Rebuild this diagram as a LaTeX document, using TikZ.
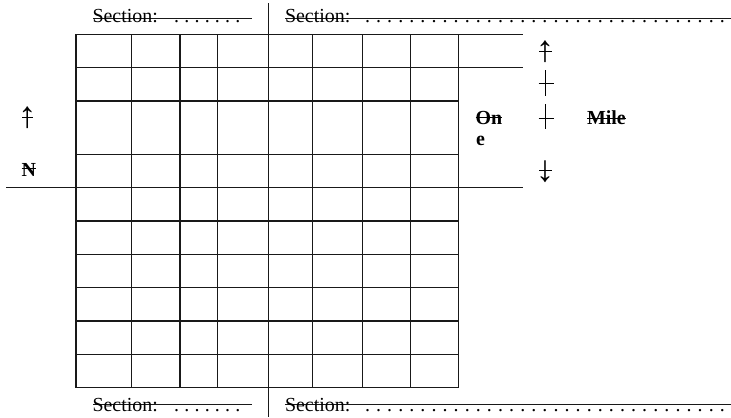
\documentclass[tikz,border=0pt]{standalone}
\usepackage{fontspec}
\setmainfont{Liberation Serif}
\newcommand\mydotrow[2]{\foreach \k in {1,...,#1}{\makebox[#2bp][l]{.}}}
\begin{document}
\begin{tikzpicture}[x=1bp,y=-1bp,
  gridline/.style={line width=1.1bp, black!90},
  lbl/.style={inner sep=0pt, outer sep=0pt, anchor=base west, font=\fontsize{20}{24}\selectfont},
  blbl/.style={lbl, font=\fontsize{20}{24}\selectfont\bfseries},
  arr/.style={inner sep=0pt, outer sep=0pt, anchor=center, font=\fontsize{37}{40}\selectfont},
  strk/.style={line width=0.9bp, black}]
\useasboundingbox (0,0) rectangle (731,417);
% grid
\foreach \x in {76,131.7,180,217.7,268.7,312.3,362.3,410.3,458.7}
  \draw[gridline] (\x,34.3) -- (\x,387.7);
\foreach \y in {34.3,67.7,101,154.3,187.7,221,254.3,287.7,321,354.3,387.7}
  \draw[gridline] (76,\y) -- (458.7,\y);
% extensions
\draw[gridline] (458.7,34.3) -- (523,34.3);
\draw[gridline] (458.7,67.7) -- (523,67.7);
\draw[gridline] (6,187.7) -- (523,187.7);
\draw[gridline] (268.7,3) -- (268.7,417);
% section lines
\draw[gridline] (93,18.3) -- (252,18.3);
\draw[gridline] (285,18.3) -- (731,18.3);
\draw[gridline] (93,404.2) -- (252,404.2);
\draw[gridline] (285,404.2) -- (731,404.2);
% section labels
\node[lbl] (s1) at (92.5,22) {Section:};
\node[lbl] (d1) at (174.2,22.5) {\mydotrow{7}{10.2}};
\node[lbl] (s2) at (285,22) {Section:};
\node[lbl] (d2) at (365,22.5) {\mydotrow{33}{11.09}};
\node[lbl] (s3) at (92.5,411) {Section:};
\node[lbl] (d3) at (174.2,411) {\mydotrow{7}{10.2}};
\node[lbl] (s4) at (285,411) {Section:};
\node[lbl] (d4) at (365,411) {\mydotrow{33}{11.09}};
% north
\node[arr] (upL) at (27.3,117.5) {↑};
\draw[strk] (22,117) -- (33,117);
\node[blbl] (N) at (21.5,176) {N};
\draw[strk] (N.west |- 0,168) -- (N.east |- 0,168);
% one mile
\node[arr] (upR) at (545,52) {↑};
\draw[strk] (539,51) -- (552,51);
\draw[strk] (545,70) -- (545,96);
\draw[strk] (538.5,83) -- (553.5,83);
\draw[strk] (545,104) -- (545,129);
\draw[strk] (538.5,118) -- (553.5,118);
\node[arr] (dnR) at (545,171.5) {↓};
\draw[strk] (539,170) -- (552,170);
\node[blbl] (On) at (475.5,124.5) {On};
\draw[strk] (On.west |- 0,117.5) -- (On.east |- 0,117.5);
\node[blbl] (e) at (476,145) {e};
\node[blbl] (Mile) at (587,124.3) {Mile};
\draw[strk] (Mile.west |- 0,118) -- (Mile.east |- 0,118);
\end{tikzpicture}
\end{document}
